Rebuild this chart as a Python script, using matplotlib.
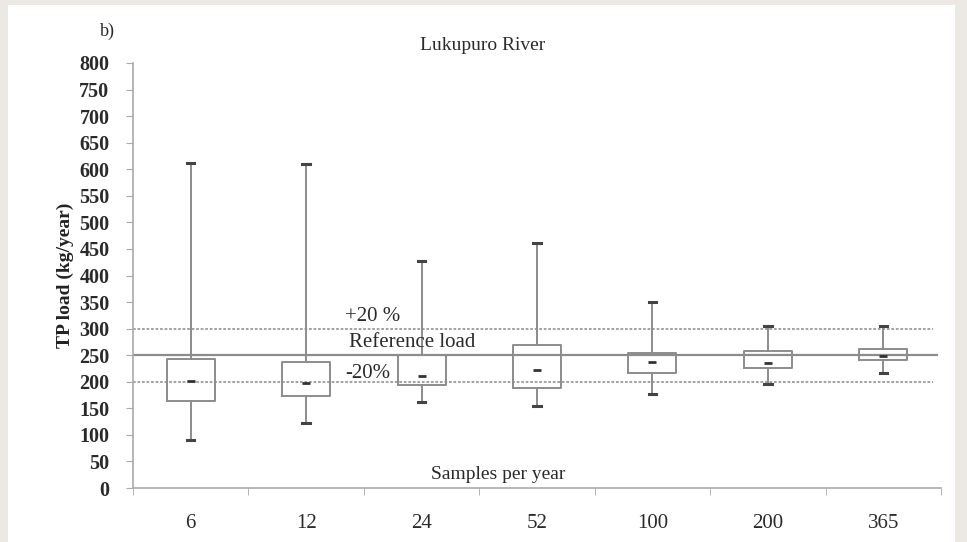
import numpy as np
import matplotlib.pyplot as plt
from matplotlib.patches import Rectangle

plt.rcParams['font.family'] = ['Liberation Serif', 'DejaVu Serif']

# 采样频率与负荷分布（kg/year）
samples = ['6', '12', '24', '52', '100', '200', '365']
whis_low = [90, 122, 161, 155, 177, 195, 216]
q1 = [164, 173, 193, 188, 217, 225, 241]
median = [202, 198, 211, 222, 237, 236, 248]
q3 = [243, 238, 250, 269, 254, 258, 261]
whis_high = [612, 610, 427, 461, 351, 305, 305]
ref_load = 250

fig = plt.figure(figsize=(9.67, 5.42), dpi=100)
fig.patch.set_facecolor('#ece8e4')
fig.patches.append(Rectangle((8 / 967, 0), 947 / 967, 537 / 542,
                             transform=fig.transFigure, facecolor='white',
                             edgecolor='none', zorder=-5))
ax = fig.add_axes([133 / 967, 54 / 542, 808 / 967, 425 / 542])
ax.set_facecolor('none')
ax.set_zorder(2)

pos = np.arange(len(samples))
stats = []
for i in range(len(samples)):
    stats.append(dict(whislo=whis_low[i], q1=q1[i], med=median[i],
                      q3=q3[i], whishi=whis_high[i], fliers=[]))

line_c = '#8c8c8c'
ax.bxp(stats, positions=pos, widths=0.415, capwidths=0.065,
       boxprops=dict(color=line_c, linewidth=1.4),
       whiskerprops=dict(color=line_c, linewidth=1.4),
       capprops=dict(color='#444444', linewidth=2.2),
       medianprops=dict(linewidth=0),
       showfliers=False, zorder=3)
# 中位数用短横线表示
ax.plot(pos, median, linestyle='none', marker='_', markersize=6,
        markeredgewidth=2, color='#333333', zorder=4)

# 参考负荷及 ±20% 区间
ax.axhline(ref_load, xmax=0.995, color='#8c8c8c', linewidth=1.6, zorder=2)
ax.axhline(ref_load * 1.2, xmax=0.99, color='#9a9a9a', linewidth=1.3,
           linestyle=(0, (1.5, 1)), zorder=2)
ax.axhline(ref_load * 0.8, xmax=0.99, color='#9a9a9a', linewidth=1.3,
           linestyle=(0, (1.5, 1)), zorder=2)

ax.set_xlim(-0.5, 6.5)
ax.set_ylim(0, 800)
ax.set_yticks(np.arange(0, 801, 50))
ax.set_xticks(pos)
ax.set_xticklabels(samples)
ax.set_xticks(np.arange(-0.5, 6.6, 1), minor=True)
ax.tick_params(axis='x', which='major', length=0, pad=19, labelsize=15)
ax.tick_params(axis='x', which='minor', length=5, color='#aaaaaa', direction='out')
ax.tick_params(axis='y', length=5, color='#aaaaaa', pad=12, labelsize=14.5)
for lab in ax.get_yticklabels():
    lab.set_fontweight('bold')
    lab.set_color('#2a2a2a')
for lab in ax.get_xticklabels():
    lab.set_color('#2a2a2a')

for s in ['top', 'right']:
    ax.spines[s].set_visible(False)
for s in ['left', 'bottom']:
    ax.spines[s].set_color('#aaaaaa')
    ax.spines[s].set_linewidth(1.2)

ax.set_ylabel('TP load (kg/year)', fontsize=14, fontweight='bold', labelpad=4,
              color='#222222')

ax.text(1.58, 322, '+20 %', ha='center', va='center', fontsize=15, color='#2a2a2a')
ax.text(1.92, 273, 'Reference load', ha='center', va='center', fontsize=15, color='#2a2a2a')
ax.text(1.53, 216, '-20%', ha='center', va='center', fontsize=15, color='#2a2a2a')
ax.text(2.66, 25, 'Samples per year', ha='center', va='center', fontsize=14, color='#2a2a2a')

fig.text(483 / 967, 1 - 45 / 542, 'Lukupuro River', ha='center', va='center',
         fontsize=14, color='#2a2a2a')
fig.text(107 / 967, 1 - 31 / 542, 'b)', ha='center', va='center',
         fontsize=13, color='#2a2a2a')

fig.savefig('out.png', dpi=100)
